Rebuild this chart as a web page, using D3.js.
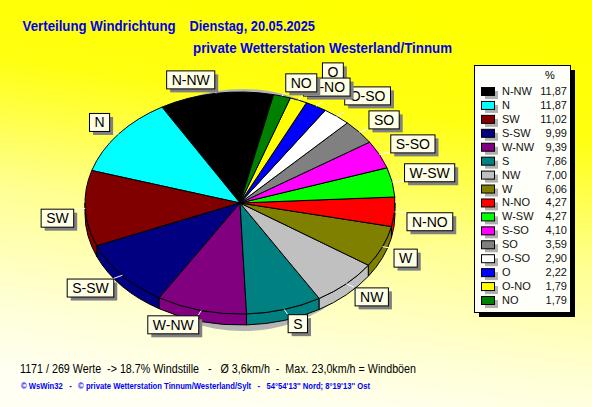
<!DOCTYPE html>
<html><head><meta charset="utf-8">
<script src="https://cdn.jsdelivr.net/npm/d3@7/dist/d3.min.js"></script>
<style>
body{margin:0;overflow:hidden;background:#ffff00}
svg{display:block}
text{font-family:"Liberation Sans",Arial,sans-serif}
</style>
</head><body>
<script>
// ---- data ----
const directions = ["N-NW","N","SW","S-SW","W-NW","S","NW","W","N-NO","W-SW","S-SO","SO","O-SO","O","O-NO","NO"];
const percents   = [11.87,11.87,11.02,9.99,9.39,7.86,7.00,6.06,4.27,4.27,4.10,3.59,2.90,2.22,1.79,1.79];
const sliceColors = ["#000000","#00ffff","#800000","#000080","#800080","#008080","#c0c0c0","#808000",
                     "#ff0000","#00ff00","#ff00ff","#808080","#ffffff","#0000ff","#ffff00","#008000"];
const titleLeft = "Verteilung Windrichtung";
const titleDate = "Dienstag, 20.05.2025";
const subtitle = "private Wetterstation Westerland/Tinnum";
const infoLine = "1171 / 269 Werte  -> 18.7% Windstille   -   Ø 3,6km/h  -  Max. 23,0km/h = Windböen";
const copyLine = "© WsWin32   -   © private Wetterstation Tinnum/Westerland/Sylt   -   54°54'13'' Nord; 8°19'13'' Ost";

// ---- layout ----
const W = 592, H = 407;
const cx = 240, cy = 203, rx = 155, ry = 111, depth = 11;
const lrx = 167, lry = 116;          // leader end ellipse
const startDeg = 12.5;

const svg = d3.select("body").append("svg").attr("width", W).attr("height", H);
const defs = svg.append("defs");
const bg = defs.append("linearGradient").attr("id","bg")
  .attr("x1","0.6").attr("y1","0").attr("x2","0.4").attr("y2","1");
bg.append("stop").attr("offset","0").attr("stop-color","#ffff00");
bg.append("stop").attr("offset","0.25").attr("stop-color","#ffff10");
bg.append("stop").attr("offset","0.55").attr("stop-color","#ffff90");
bg.append("stop").attr("offset","0.8").attr("stop-color","#ffffd0");
bg.append("stop").attr("offset","1").attr("stop-color","#fffff4");
svg.append("rect").attr("width",W).attr("height",H).attr("fill","url(#bg)");

// titles
svg.append("text").attr("x",22.6).attr("y",31).attr("font-size",14).attr("font-weight","bold")
  .attr("fill","#0000ee").attr("textLength",153).attr("lengthAdjust","spacingAndGlyphs").text(titleLeft);
svg.append("text").attr("x",189.5).attr("y",31).attr("font-size",14).attr("font-weight","bold")
  .attr("fill","#0000ee").attr("textLength",125.5).attr("lengthAdjust","spacingAndGlyphs").text(titleDate);
svg.append("text").attr("x",193).attr("y",53).attr("font-size",14).attr("font-weight","bold")
  .attr("fill","#0000ee").attr("textLength",259).attr("lengthAdjust","spacingAndGlyphs").text(subtitle);

// ---- pie ----
const color = d3.scaleOrdinal().domain(directions).range(sliceColors);
const a0 = startDeg * Math.PI / 180;
const pie = d3.pie().sort(null).startAngle(a0).endAngle(a0 - 2*Math.PI);
const arcs = pie(percents).map((d,i) => {
  const s = Math.min(d.startAngle, d.endAngle), e = Math.max(d.startAngle, d.endAngle);
  return {name: directions[i], value: d.value, s, e, mid: (s+e)/2};
});
const P = (a, rX=rx, rY=ry, dy=0) => [cx + rX*Math.sin(a), cy - rY*Math.cos(a) + dy];
const pt = p => p[0].toFixed(2)+","+p[1].toFixed(2);

// shadow
svg.append("ellipse").attr("cx",cx+3).attr("cy",cy+7).attr("rx",140).attr("ry",121).attr("fill","#b4b4b4");

// side walls (front half)
const sides = [];
arcs.forEach(d => {
  for (let k=-2; k<=1; k++) {
    const f0 = Math.PI/2 + 2*Math.PI*k, f1 = 3*Math.PI/2 + 2*Math.PI*k;
    const t1 = Math.max(d.s, f0), t2 = Math.min(d.e, f1);
    if (t2 > t1) sides.push({name:d.name, t1, t2});
  }
});
svg.append("g").selectAll("path").data(sides).join("path")
  .attr("d", d => `M${pt(P(d.t1))}A${rx},${ry} 0 0 1 ${pt(P(d.t2))}L${pt(P(d.t2,rx,ry,depth))}A${rx},${ry} 0 0 0 ${pt(P(d.t1,rx,ry,depth))}Z`)
  .attr("fill", d => color(d.name)).attr("stroke","#000").attr("stroke-width",1).attr("stroke-linejoin","round");

// top faces
svg.append("g").selectAll("path").data(arcs).join("path")
  .attr("d", d => `M${cx},${cy}L${pt(P(d.s))}A${rx},${ry} 0 ${(d.e-d.s)>Math.PI?1:0} 1 ${pt(P(d.e))}Z`)
  .attr("fill", d => color(d.name)).attr("stroke","#000").attr("stroke-width",1).attr("stroke-linejoin","round");

// ---- slice labels ----
const fontLbl = 14, boxH = 18, pad = 5;
const meas = svg.append("text").attr("font-size",fontLbl).attr("visibility","hidden");
const labels = arcs.map(d => {
  meas.text(d.name);
  const w = meas.node().getComputedTextLength() + 2*pad;
  const sn = Math.sin(d.mid), cs = Math.cos(d.mid);
  const a = P(d.mid, lrx, lry);
  const x = sn >= 0 ? a[0] : a[0]-w;
  const y = cs >= 0 ? a[1]-boxH : a[1];
  let m = ((d.mid % (2*Math.PI)) + 2*Math.PI) % (2*Math.PI);
  return {name:d.name, mid:d.mid, m, w, x, y, edge:P(d.mid), anchor:a};
});
meas.remove();
// resolve overlaps on the right side, bottom-up
const right = labels.filter(l => l.m > 25*Math.PI/180 && l.m < Math.PI).sort((a,b)=>b.m-a.m);
for (let i=1;i<right.length;i++){
  const l = right[i], p = right[i-1], g = 6;
  const hx = l.x < p.x + p.w + g && l.x + l.w + g > p.x;
  const vy = l.y < p.y + boxH + g && l.y + boxH + g > p.y;
  if (hx && vy) l.y = p.y - boxH - g;
}
const lg = svg.append("g");
lg.selectAll("line").data(labels).join("line")
  .attr("x1", d=>d.edge[0]).attr("y1", d=>d.edge[1])
  .attr("x2", d=>d.anchor[0]).attr("y2", d=>d.anchor[1])
  .attr("stroke","#ffffff").attr("stroke-width",1);
const lb = lg.selectAll("g.lb").data(labels).join("g").attr("class","lb");
lb.append("rect").attr("x",d=>d.x+4).attr("y",d=>d.y+4).attr("width",d=>d.w).attr("height",boxH).attr("fill","#808080");
lb.append("rect").attr("x",d=>d.x+0.5).attr("y",d=>d.y+0.5).attr("width",d=>d.w).attr("height",boxH)
  .attr("fill","#ffffe6").attr("stroke","#000").attr("stroke-width",1);
lb.append("text").attr("x",d=>d.x+0.5+d.w/2).attr("y",d=>d.y+boxH/2+5.5).attr("text-anchor","middle")
  .attr("font-size",fontLbl).attr("fill","#000").text(d=>d.name);

// ---- legend ----
const lx = 474, ly = 65, lw = 96, lh = 247;
svg.append("rect").attr("x",lx+5).attr("y",ly+5).attr("width",lw).attr("height",lh).attr("fill","#000");
svg.append("rect").attr("x",lx+0.5).attr("y",ly+0.5).attr("width",lw).attr("height",lh)
  .attr("fill","#fffffa").attr("stroke","#000");
svg.append("text").attr("x",550).attr("y",79).attr("font-size",11).attr("text-anchor","middle").text("%");
const rowY = d3.scalePoint().domain(directions).range([91,300]);
const fmt = v => d3.format(".2f")(v).replace(".", ",");
const rows = svg.append("g").selectAll("g").data(directions.map((n,i)=>({n, v:percents[i]}))).join("g")
  .attr("transform", d => `translate(0,${rowY(d.n)})`);
rows.append("rect").attr("x",485).attr("y",0).attr("width",13).attr("height",8).attr("fill","#b0b0b0");
rows.append("rect").attr("x",481.5).attr("y",-3.5).attr("width",13).attr("height",8)
  .attr("fill",d=>color(d.n)).attr("stroke","#000");
rows.append("text").attr("x",502).attr("y",4).attr("font-size",11).attr("fill","#111").text(d=>d.n);
rows.append("text").attr("x",567).attr("y",4).attr("font-size",11).attr("fill","#111")
  .attr("text-anchor","end").text(d=>fmt(d.v));

// ---- footer ----
svg.append("text").attr("x",20).attr("y",373).attr("font-size",12).attr("fill","#000")
  .attr("xml:space","preserve").style("white-space","pre")
  .attr("textLength",396).attr("lengthAdjust","spacingAndGlyphs").text(infoLine);
svg.append("text").attr("x",21).attr("y",389).attr("font-size",8.5).attr("font-weight","bold").attr("fill","#0000ff")
  .attr("xml:space","preserve").style("white-space","pre")
  .attr("textLength",349).attr("lengthAdjust","spacingAndGlyphs").text(copyLine);
</script>
</body></html>
